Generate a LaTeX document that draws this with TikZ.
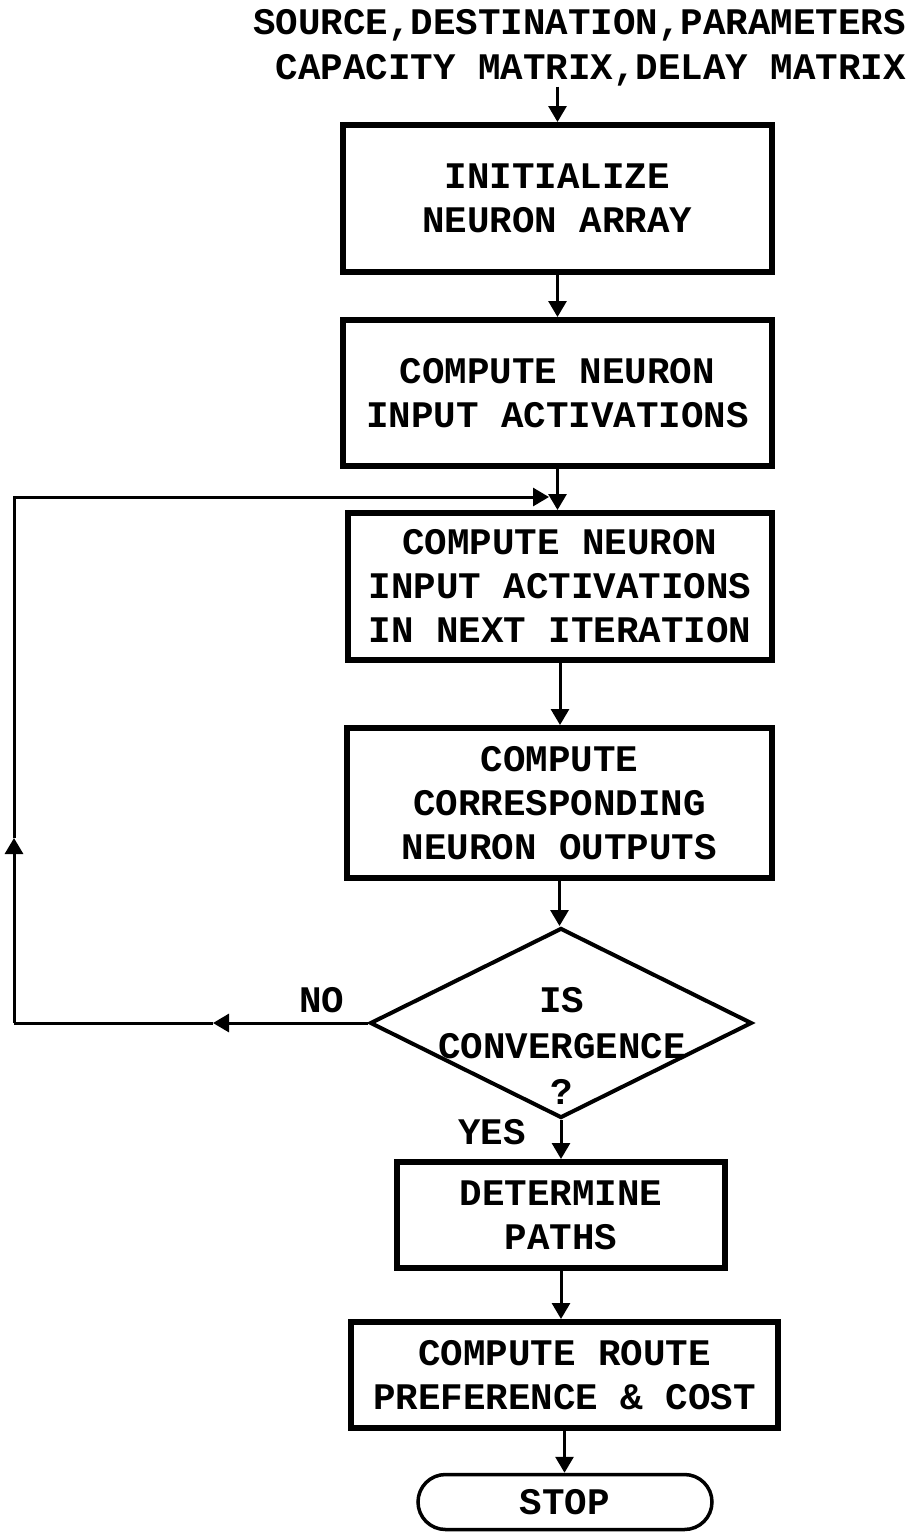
\documentclass[tikz,border=0pt]{standalone}
\usepackage{fontspec}
\newfontfamily\chartfont{Liberation Mono}
\usetikzlibrary{arrows.meta,shapes.geometric,shapes.misc}
\begin{document}
\begin{tikzpicture}[x=1pt,y=-1pt,
  txt/.style={font=\chartfont\bfseries\fontsize{37.5}{44}\selectfont, align=center, inner sep=0pt},
  box/.style={txt, draw, line width=6pt},
  plain/.style={line width=3pt},
  conn/.style={line width=3pt, -{Triangle[width=18pt,length=16pt]}}]
\useasboundingbox (0,0) rectangle (912,1535);

\node[txt, align=right, anchor=east, font=\chartfont\bfseries\fontsize{37.5}{45}\selectfont] (title) at (906,48)
  {SOURCE,DESTINATION,PARAMETERS\\CAPACITY MATRIX,DELAY MATRIX};

\node[box, minimum width=429pt, minimum height=147pt] (b1) at (557.5,198.5) {INITIALIZE\\NEURON ARRAY};
\node[box, minimum width=429pt, minimum height=146pt] (b2) at (557.5,393) {COMPUTE NEURON\\INPUT ACTIVATIONS};
\node[box, minimum width=424pt, minimum height=147pt] (b3) at (560,586.5) {COMPUTE NEURON\\INPUT ACTIVATIONS\\IN NEXT ITERATION};
\node[box, minimum width=425pt, minimum height=150pt] (b4) at (559.5,803) {COMPUTE\\CORRESPONDING\\NEURON OUTPUTS};
\node[diamond, draw, line width=4pt, minimum width=382pt, minimum height=190pt, inner sep=0pt] (d) at (561,1023) {};
\node[txt, font=\chartfont\bfseries\fontsize{37.5}{46}\selectfont] (dtxt) at (562,1046) {IS\\CONVERGENCE\\?};
\node[box, minimum width=328pt, minimum height=106pt] (b5) at (561,1215) {DETERMINE\\PATHS};
\node[box, minimum width=427pt, minimum height=106pt] (b6) at (564.5,1375) {COMPUTE ROUTE\\PREFERENCE \& COST};
\node[txt, draw, rounded rectangle, line width=3.5pt, minimum width=294pt, minimum height=55pt] (stop) at (565,1502) {STOP};

\node[txt] (no) at (322,1000) {NO};
\node[txt] (yes) at (492,1132) {YES};

\draw[conn] (title.south -| b1.north) -- (b1.north);
\draw[conn] (b1.south) -- (b1.south |- b2.north);
\draw[conn] (b2.south) -- (b2.south |- b3.north);
\draw[conn] (b3.south) -- (b3.south |- b4.north);
\draw[conn] (b4.south) -- (b4.south |- d.north);
\draw[conn] (d.south) -- (d.south |- b5.north);
\draw[conn] (b5.south) -- (b5.south |- b6.north);
\draw[conn] (b6.south) -- (b6.south |- stop.north);

\coordinate (nomid) at (213,1023);
\coordinate (lc) at (14,1023);
\coordinate (upmid) at (14,838);
\coordinate (tc) at (14,497);
\coordinate (jn) at (549,497);
\draw[conn] (d.west) -- (nomid);
\draw[plain] (nomid) -- (lc);
\draw[conn] (lc) -- (upmid);
\draw[conn] (upmid) -- (tc) -- (jn);
\end{tikzpicture}
\end{document}
